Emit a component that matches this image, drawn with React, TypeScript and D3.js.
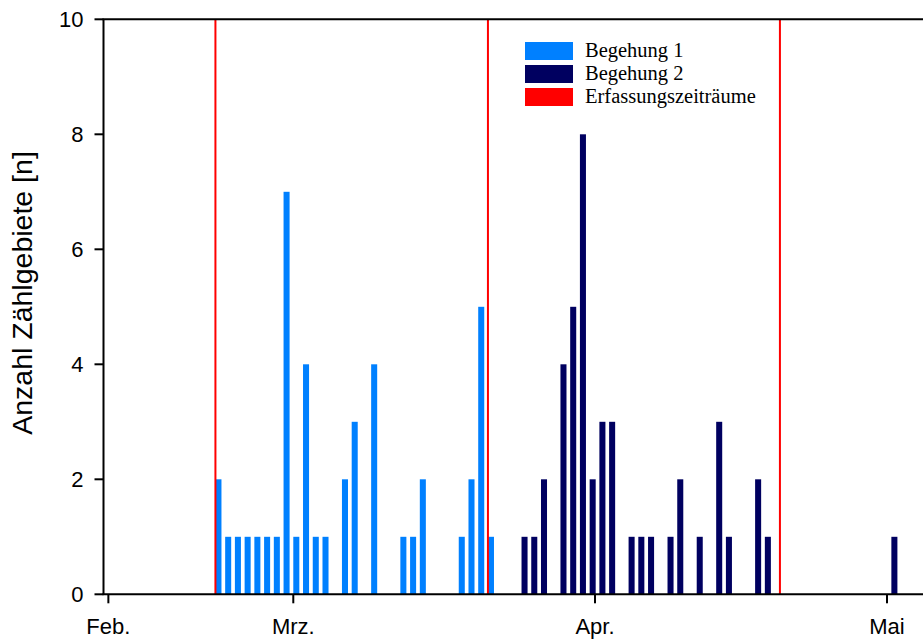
import React from "react";
import * as d3 from "d3";

// Begehung 1 (date, count)
const begehung1Dates = ["02-21","02-22","02-23","02-24","02-25","02-26","02-27","02-28","03-01","03-02","03-03","03-04","03-06","03-07","03-09","03-12","03-13","03-14","03-18","03-19","03-20","03-21"];
const begehung1Values = [2,1,1,1,1,1,1,7,1,4,1,1,2,3,4,1,1,2,1,2,5,1];

// Begehung 2 (date, count)
const begehung2Dates = ["03-24","03-25","03-26","03-28","03-29","03-30","03-31","04-01","04-02","04-04","04-05","04-06","04-08","04-09","04-11","04-13","04-14","04-17","04-18","05-01"];
const begehung2Values = [1,1,2,4,5,8,2,3,3,1,1,1,1,2,1,3,1,2,1,1];

// Erfassungszeiträume (boundaries)
const periodDates = ["02-21","03-21","04-20"];

// x ticks
const xTickDates = ["02-10","03-01","04-01","05-01"];
const xTickLabels = ["Feb.","Mrz.","Apr.","Mai"];
const yTicks = [0,2,4,6,8,10];

const legendLabels = ["Begehung 1","Begehung 2","Erfassungszeiträume"];
const colors = { b1: "#0080ff", b2: "#000060", red: "#ff0000" };

const monthStart = [0,31,59,90,120,151];
function doy(s: string): number {
  const [m, d] = s.split("-").map(Number);
  return monthStart[m - 1] + d;
}

export default function App() {
  const W = 923, H = 640;
  const left = 103.5, right = 923, top = 19.3, bottom = 594.3;
  const x = d3.scaleLinear().domain([40.5, 124.7]).range([left, right]);
  const y = d3.scaleLinear().domain([0, 10]).range([bottom, top]);
  const dayW = x(1) - x(0);
  const barW = 0.62 * dayW;
  const off2 = 0.45 * dayW;

  const s1 = begehung1Dates.map((d, i) => ({ t: doy(d), v: begehung1Values[i] }));
  const s2 = begehung2Dates.map((d, i) => ({ t: doy(d), v: begehung2Values[i] }));

  return (
    <svg width={W} height={H} style={{ position: "absolute", left: 0, top: 0, background: "#fff" }}>
      <rect x={0} y={0} width={W} height={H} fill="#fff" />
      {s1.map((d, i) => (
        <rect key={"a" + i} x={x(d.t)} y={y(d.v)} width={barW} height={y(0) - y(d.v)} fill={colors.b1} />
      ))}
      {s2.map((d, i) => (
        <rect key={"b" + i} x={x(d.t) + off2} y={y(d.v)} width={barW} height={y(0) - y(d.v)} fill={colors.b2} />
      ))}
      {periodDates.map((d, i) => (
        <line key={"r" + i} x1={x(doy(d))} x2={x(doy(d))} y1={top} y2={bottom} stroke={colors.red} strokeWidth={2} />
      ))}
      {/* axes */}
      <line x1={left} x2={left} y1={top} y2={bottom} stroke="#000" strokeWidth={2} />
      <line x1={left - 1} x2={right} y1={bottom} y2={bottom} stroke="#000" strokeWidth={2} />
      <line x1={left - 1} x2={right} y1={top} y2={top} stroke="#000" strokeWidth={2} />
      {yTicks.map((t) => (
        <g key={"y" + t}>
          <line x1={left - 9} x2={left} y1={y(t)} y2={y(t)} stroke="#000" strokeWidth={2} />
          <text x={left - 20} y={y(t)} dy="0.35em" textAnchor="end" fontFamily="Liberation Sans, Arial, sans-serif" fontSize={22} fill="#000">{t}</text>
        </g>
      ))}
      {xTickDates.map((d, i) => (
        <g key={"x" + i}>
          <line x1={x(doy(d))} x2={x(doy(d))} y1={bottom} y2={bottom + 9} stroke="#000" strokeWidth={2} />
          <text x={x(doy(d))} y={634} textAnchor="middle" fontFamily="Liberation Sans, Arial, sans-serif" fontSize={22} fill="#000">{xTickLabels[i]}</text>
        </g>
      ))}
      <text transform={`translate(32,293) rotate(-90)`} textAnchor="middle" fontFamily="Liberation Sans, Arial, sans-serif" fontSize={28.5} fill="#000">Anzahl Zählgebiete [n]</text>
      {/* legend */}
      {legendLabels.map((l, i) => (
        <g key={"l" + i}>
          <rect x={525} y={42 + i * 23} width={48} height={18} fill={[colors.b1, colors.b2, colors.red][i]} />
          <text x={585} y={57 + i * 23} fontFamily="Liberation Serif, Times New Roman, serif" fontSize={20.5} fill="#000">{l}</text>
        </g>
      ))}
    </svg>
  );
}
